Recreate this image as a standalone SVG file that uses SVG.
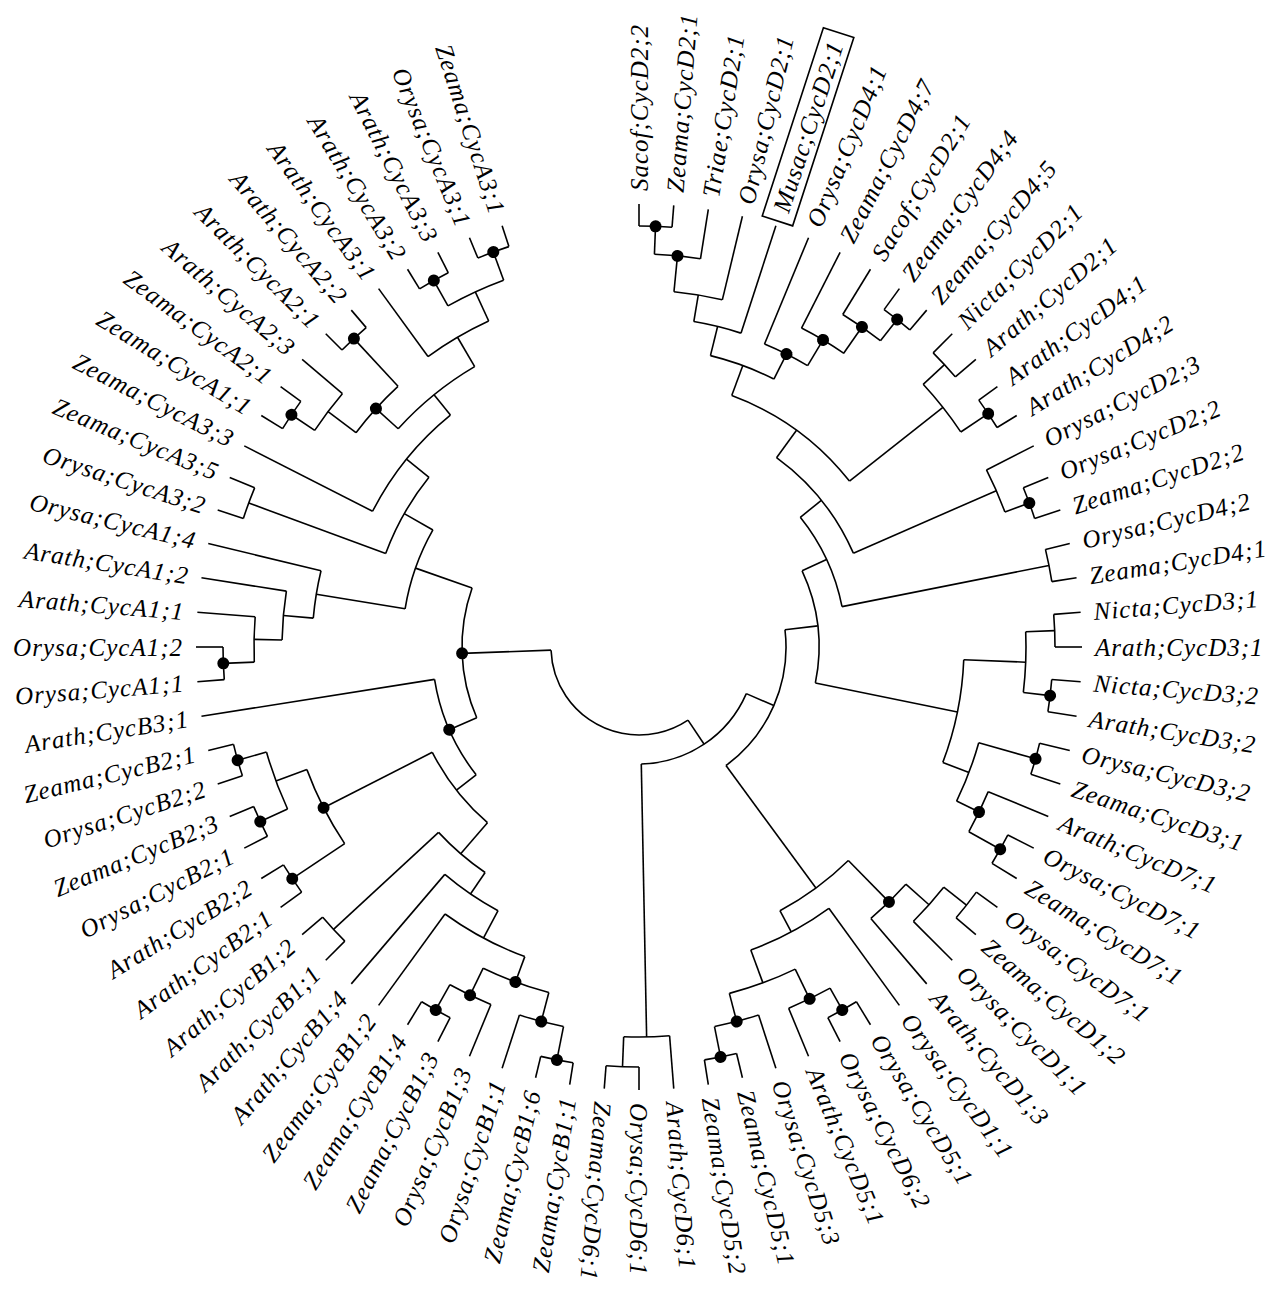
<svg xmlns="http://www.w3.org/2000/svg" width="1270" height="1289" viewBox="0 0 1270 1289">
<style>
#connectors line{stroke:#000;stroke-width:1.6}
#connectors circle{stroke:#000;stroke-width:1.6;fill:none}
.dot{fill:#000}
text{font-family:"Liberation Serif","Times New Roman",serif;font-style:italic;font-size:25px;letter-spacing:1px;fill:#000}
.l{text-anchor:end}
</style>
<rect width="1270" height="1289" fill="#fff"/>
<g transform="translate(639 647)">
<g id="connectors">
<line x1="421" x2="443" transform="rotate(-90)"/>
<line x1="421" x2="443" transform="rotate(-85.5)"/>
<line x1="393" x2="421" transform="rotate(-87.75)"/>
<line x1="393" x2="443" transform="rotate(-81)"/>
<line x1="357" x2="393" transform="rotate(-84.38)"/>
<line x1="357" x2="443" transform="rotate(-76.5)"/>
<line x1="330" x2="357" transform="rotate(-80.44)"/>
<line x1="330" x2="443" transform="rotate(-72)"/>
<line x1="417" x2="443" transform="rotate(-54)"/>
<line x1="417" x2="443" transform="rotate(-49.5)"/>
<line x1="390" x2="443" transform="rotate(-58.5)"/>
<line x1="390" x2="417" transform="rotate(-51.75)"/>
<line x1="358" x2="443" transform="rotate(-63)"/>
<line x1="358" x2="390" transform="rotate(-55.13)"/>
<line x1="328" x2="443" transform="rotate(-67.5)"/>
<line x1="328" x2="358" transform="rotate(-59.06)"/>
<line x1="300" x2="330" transform="rotate(-76.22)"/>
<line x1="300" x2="328" transform="rotate(-63.28)"/>
<line x1="416" x2="443" transform="rotate(-45)"/>
<line x1="416" x2="443" transform="rotate(-40.5)"/>
<line x1="420" x2="443" transform="rotate(-36)"/>
<line x1="420" x2="443" transform="rotate(-31.5)"/>
<line x1="387" x2="416" transform="rotate(-42.75)"/>
<line x1="387" x2="420" transform="rotate(-33.75)"/>
<line x1="268" x2="300" transform="rotate(-69.75)"/>
<line x1="268" x2="387" transform="rotate(-38.25)"/>
<line x1="416" x2="443" transform="rotate(-22.5)"/>
<line x1="416" x2="443" transform="rotate(-18)"/>
<line x1="390" x2="443" transform="rotate(-27)"/>
<line x1="390" x2="416" transform="rotate(-20.25)"/>
<line x1="234" x2="268" transform="rotate(-54)"/>
<line x1="234" x2="390" transform="rotate(-23.63)"/>
<line x1="418" x2="443" transform="rotate(-13.5)"/>
<line x1="418" x2="443" transform="rotate(-9)"/>
<line x1="207" x2="234" transform="rotate(-38.81)"/>
<line x1="207" x2="418" transform="rotate(-11.25)"/>
<line x1="416" x2="443" transform="rotate(-4.5)"/>
<line x1="416" x2="443" transform="rotate(0)"/>
<line x1="414" x2="443" transform="rotate(4.5)"/>
<line x1="414" x2="443" transform="rotate(9)"/>
<line x1="387" x2="416" transform="rotate(-2.25)"/>
<line x1="387" x2="414" transform="rotate(6.75)"/>
<line x1="412" x2="443" transform="rotate(13.5)"/>
<line x1="412" x2="443" transform="rotate(18)"/>
<line x1="414" x2="443" transform="rotate(27)"/>
<line x1="414" x2="443" transform="rotate(31.5)"/>
<line x1="378" x2="443" transform="rotate(22.5)"/>
<line x1="378" x2="414" transform="rotate(29.25)"/>
<line x1="353" x2="412" transform="rotate(15.75)"/>
<line x1="353" x2="378" transform="rotate(25.88)"/>
<line x1="325" x2="387" transform="rotate(2.25)"/>
<line x1="325" x2="353" transform="rotate(20.81)"/>
<line x1="180" x2="207" transform="rotate(-25.03)"/>
<line x1="180" x2="325" transform="rotate(11.53)"/>
<line x1="417" x2="443" transform="rotate(36)"/>
<line x1="417" x2="443" transform="rotate(40.5)"/>
<line x1="388" x2="417" transform="rotate(38.25)"/>
<line x1="388" x2="443" transform="rotate(45)"/>
<line x1="357" x2="388" transform="rotate(41.63)"/>
<line x1="357" x2="443" transform="rotate(49.5)"/>
<line x1="416" x2="443" transform="rotate(58.5)"/>
<line x1="416" x2="443" transform="rotate(63)"/>
<line x1="391" x2="416" transform="rotate(60.75)"/>
<line x1="391" x2="443" transform="rotate(67.5)"/>
<line x1="418" x2="443" transform="rotate(76.5)"/>
<line x1="418" x2="443" transform="rotate(81)"/>
<line x1="387" x2="443" transform="rotate(72)"/>
<line x1="387" x2="418" transform="rotate(78.75)"/>
<line x1="358" x2="391" transform="rotate(64.13)"/>
<line x1="358" x2="387" transform="rotate(75.38)"/>
<line x1="323" x2="443" transform="rotate(54)"/>
<line x1="323" x2="358" transform="rotate(69.75)"/>
<line x1="299" x2="357" transform="rotate(45.56)"/>
<line x1="299" x2="323" transform="rotate(61.88)"/>
<line x1="147" x2="180" transform="rotate(-6.75)"/>
<line x1="147" x2="299" transform="rotate(53.72)"/>
<line x1="420" x2="443" transform="rotate(90)"/>
<line x1="420" x2="443" transform="rotate(94.5)"/>
<line x1="390" x2="443" transform="rotate(85.5)"/>
<line x1="390" x2="420" transform="rotate(92.25)"/>
<line x1="117" x2="147" transform="rotate(23.48)"/>
<line x1="117" x2="390" transform="rotate(88.88)"/>
<line x1="88" x2="117" transform="rotate(56.18)"/>
<line x1="88" x2="177" transform="rotate(177.95)"/>
<line x1="421" x2="443" transform="rotate(99)"/>
<line x1="421" x2="443" transform="rotate(103.5)"/>
<line x1="387" x2="421" transform="rotate(101.25)"/>
<line x1="387" x2="443" transform="rotate(108)"/>
<line x1="416" x2="443" transform="rotate(117)"/>
<line x1="416" x2="443" transform="rotate(121.5)"/>
<line x1="387" x2="443" transform="rotate(112.5)"/>
<line x1="387" x2="416" transform="rotate(119.25)"/>
<line x1="357" x2="387" transform="rotate(104.63)"/>
<line x1="357" x2="387" transform="rotate(115.88)"/>
<line x1="330" x2="357" transform="rotate(110.25)"/>
<line x1="330" x2="443" transform="rotate(126)"/>
<line x1="299" x2="330" transform="rotate(118.13)"/>
<line x1="299" x2="443" transform="rotate(130.5)"/>
<line x1="416" x2="443" transform="rotate(135)"/>
<line x1="416" x2="443" transform="rotate(139.5)"/>
<line x1="273" x2="299" transform="rotate(124.31)"/>
<line x1="273" x2="416" transform="rotate(137.25)"/>
<line x1="417" x2="443" transform="rotate(144)"/>
<line x1="417" x2="443" transform="rotate(148.5)"/>
<line x1="417" x2="443" transform="rotate(153)"/>
<line x1="417" x2="443" transform="rotate(157.5)"/>
<line x1="417" x2="443" transform="rotate(162)"/>
<line x1="417" x2="443" transform="rotate(166.5)"/>
<line x1="387" x2="417" transform="rotate(155.25)"/>
<line x1="387" x2="417" transform="rotate(164.25)"/>
<line x1="354" x2="417" transform="rotate(146.25)"/>
<line x1="354" x2="387" transform="rotate(159.75)"/>
<line x1="232" x2="273" transform="rotate(130.78)"/>
<line x1="232" x2="354" transform="rotate(153)"/>
<line x1="207" x2="232" transform="rotate(141.89)"/>
<line x1="207" x2="443" transform="rotate(171)"/>
<line x1="416" x2="443" transform="rotate(175.5)"/>
<line x1="416" x2="443" transform="rotate(180)"/>
<line x1="385" x2="416" transform="rotate(177.75)"/>
<line x1="385" x2="443" transform="rotate(184.5)"/>
<line x1="357" x2="385" transform="rotate(181.13)"/>
<line x1="357" x2="443" transform="rotate(189)"/>
<line x1="327" x2="357" transform="rotate(185.06)"/>
<line x1="327" x2="443" transform="rotate(193.5)"/>
<line x1="416" x2="443" transform="rotate(198)"/>
<line x1="416" x2="443" transform="rotate(202.5)"/>
<line x1="418" x2="443" transform="rotate(211.5)"/>
<line x1="418" x2="443" transform="rotate(216)"/>
<line x1="390" x2="418" transform="rotate(213.75)"/>
<line x1="390" x2="443" transform="rotate(220.5)"/>
<line x1="420" x2="443" transform="rotate(225)"/>
<line x1="420" x2="443" transform="rotate(229.5)"/>
<line x1="355" x2="390" transform="rotate(217.13)"/>
<line x1="355" x2="420" transform="rotate(227.25)"/>
<line x1="420" x2="443" transform="rotate(238.5)"/>
<line x1="420" x2="443" transform="rotate(243)"/>
<line x1="421" x2="443" transform="rotate(247.5)"/>
<line x1="421" x2="443" transform="rotate(252)"/>
<line x1="391" x2="420" transform="rotate(240.75)"/>
<line x1="391" x2="421" transform="rotate(249.75)"/>
<line x1="359" x2="443" transform="rotate(234)"/>
<line x1="359" x2="391" transform="rotate(245.25)"/>
<line x1="325" x2="355" transform="rotate(222.19)"/>
<line x1="325" x2="359" transform="rotate(239.63)"/>
<line x1="299" x2="443" transform="rotate(207)"/>
<line x1="299" x2="325" transform="rotate(230.9)"/>
<line x1="270" x2="416" transform="rotate(200.25)"/>
<line x1="270" x2="299" transform="rotate(218.95)"/>
<line x1="237" x2="327" transform="rotate(189.28)"/>
<line x1="237" x2="270" transform="rotate(209.6)"/>
<line x1="177" x2="237" transform="rotate(199.44)"/>
<line x1="177" x2="207" transform="rotate(156.45)"/>
<circle r="421" pathLength="360" stroke-dasharray="4.5 360" transform="rotate(-90)"/>
<circle r="393" pathLength="360" stroke-dasharray="6.75 360" transform="rotate(-87.75)"/>
<circle r="357" pathLength="360" stroke-dasharray="7.88 360" transform="rotate(-84.38)"/>
<circle r="330" pathLength="360" stroke-dasharray="8.44 360" transform="rotate(-80.44)"/>
<circle r="417" pathLength="360" stroke-dasharray="4.5 360" transform="rotate(-54)"/>
<circle r="390" pathLength="360" stroke-dasharray="6.75 360" transform="rotate(-58.5)"/>
<circle r="358" pathLength="360" stroke-dasharray="7.94 360" transform="rotate(-63)"/>
<circle r="328" pathLength="360" stroke-dasharray="8.44 360" transform="rotate(-67.5)"/>
<circle r="300" pathLength="360" stroke-dasharray="12.94 360" transform="rotate(-76.22)"/>
<circle r="416" pathLength="360" stroke-dasharray="4.5 360" transform="rotate(-45)"/>
<circle r="420" pathLength="360" stroke-dasharray="4.5 360" transform="rotate(-36)"/>
<circle r="387" pathLength="360" stroke-dasharray="9 360" transform="rotate(-42.75)"/>
<circle r="268" pathLength="360" stroke-dasharray="31.5 360" transform="rotate(-69.75)"/>
<circle r="416" pathLength="360" stroke-dasharray="4.5 360" transform="rotate(-22.5)"/>
<circle r="390" pathLength="360" stroke-dasharray="6.75 360" transform="rotate(-27)"/>
<circle r="234" pathLength="360" stroke-dasharray="30.37 360" transform="rotate(-54)"/>
<circle r="418" pathLength="360" stroke-dasharray="4.5 360" transform="rotate(-13.5)"/>
<circle r="207" pathLength="360" stroke-dasharray="27.56 360" transform="rotate(-38.81)"/>
<circle r="416" pathLength="360" stroke-dasharray="4.5 360" transform="rotate(-4.5)"/>
<circle r="414" pathLength="360" stroke-dasharray="4.5 360" transform="rotate(4.5)"/>
<circle r="387" pathLength="360" stroke-dasharray="9 360" transform="rotate(-2.25)"/>
<circle r="412" pathLength="360" stroke-dasharray="4.5 360" transform="rotate(13.5)"/>
<circle r="414" pathLength="360" stroke-dasharray="4.5 360" transform="rotate(27)"/>
<circle r="378" pathLength="360" stroke-dasharray="6.75 360" transform="rotate(22.5)"/>
<circle r="353" pathLength="360" stroke-dasharray="10.13 360" transform="rotate(15.75)"/>
<circle r="325" pathLength="360" stroke-dasharray="18.56 360" transform="rotate(2.25)"/>
<circle r="180" pathLength="360" stroke-dasharray="36.56 360" transform="rotate(-25.03)"/>
<circle r="417" pathLength="360" stroke-dasharray="4.5 360" transform="rotate(36)"/>
<circle r="388" pathLength="360" stroke-dasharray="6.75 360" transform="rotate(38.25)"/>
<circle r="357" pathLength="360" stroke-dasharray="7.88 360" transform="rotate(41.63)"/>
<circle r="416" pathLength="360" stroke-dasharray="4.5 360" transform="rotate(58.5)"/>
<circle r="391" pathLength="360" stroke-dasharray="6.75 360" transform="rotate(60.75)"/>
<circle r="418" pathLength="360" stroke-dasharray="4.5 360" transform="rotate(76.5)"/>
<circle r="387" pathLength="360" stroke-dasharray="6.75 360" transform="rotate(72)"/>
<circle r="358" pathLength="360" stroke-dasharray="11.25 360" transform="rotate(64.13)"/>
<circle r="323" pathLength="360" stroke-dasharray="15.75 360" transform="rotate(54)"/>
<circle r="299" pathLength="360" stroke-dasharray="16.32 360" transform="rotate(45.56)"/>
<circle r="147" pathLength="360" stroke-dasharray="60.47 360" transform="rotate(-6.75)"/>
<circle r="420" pathLength="360" stroke-dasharray="4.5 360" transform="rotate(90)"/>
<circle r="390" pathLength="360" stroke-dasharray="6.75 360" transform="rotate(85.5)"/>
<circle r="117" pathLength="360" stroke-dasharray="65.4 360" transform="rotate(23.48)"/>
<circle r="88" pathLength="360" stroke-dasharray="121.77 360" transform="rotate(56.18)"/>
<circle r="421" pathLength="360" stroke-dasharray="4.5 360" transform="rotate(99)"/>
<circle r="387" pathLength="360" stroke-dasharray="6.75 360" transform="rotate(101.25)"/>
<circle r="416" pathLength="360" stroke-dasharray="4.5 360" transform="rotate(117)"/>
<circle r="387" pathLength="360" stroke-dasharray="6.75 360" transform="rotate(112.5)"/>
<circle r="357" pathLength="360" stroke-dasharray="11.25 360" transform="rotate(104.63)"/>
<circle r="330" pathLength="360" stroke-dasharray="15.75 360" transform="rotate(110.25)"/>
<circle r="299" pathLength="360" stroke-dasharray="12.37 360" transform="rotate(118.13)"/>
<circle r="416" pathLength="360" stroke-dasharray="4.5 360" transform="rotate(135)"/>
<circle r="273" pathLength="360" stroke-dasharray="12.94 360" transform="rotate(124.31)"/>
<circle r="417" pathLength="360" stroke-dasharray="4.5 360" transform="rotate(144)"/>
<circle r="417" pathLength="360" stroke-dasharray="4.5 360" transform="rotate(153)"/>
<circle r="417" pathLength="360" stroke-dasharray="4.5 360" transform="rotate(162)"/>
<circle r="387" pathLength="360" stroke-dasharray="9 360" transform="rotate(155.25)"/>
<circle r="354" pathLength="360" stroke-dasharray="13.5 360" transform="rotate(146.25)"/>
<circle r="232" pathLength="360" stroke-dasharray="22.22 360" transform="rotate(130.78)"/>
<circle r="207" pathLength="360" stroke-dasharray="29.11 360" transform="rotate(141.89)"/>
<circle r="416" pathLength="360" stroke-dasharray="4.5 360" transform="rotate(175.5)"/>
<circle r="385" pathLength="360" stroke-dasharray="6.75 360" transform="rotate(177.75)"/>
<circle r="357" pathLength="360" stroke-dasharray="7.88 360" transform="rotate(181.13)"/>
<circle r="327" pathLength="360" stroke-dasharray="8.44 360" transform="rotate(185.06)"/>
<circle r="416" pathLength="360" stroke-dasharray="4.5 360" transform="rotate(198)"/>
<circle r="418" pathLength="360" stroke-dasharray="4.5 360" transform="rotate(211.5)"/>
<circle r="390" pathLength="360" stroke-dasharray="6.75 360" transform="rotate(213.75)"/>
<circle r="420" pathLength="360" stroke-dasharray="4.5 360" transform="rotate(225)"/>
<circle r="355" pathLength="360" stroke-dasharray="10.12 360" transform="rotate(217.13)"/>
<circle r="420" pathLength="360" stroke-dasharray="4.5 360" transform="rotate(238.5)"/>
<circle r="421" pathLength="360" stroke-dasharray="4.5 360" transform="rotate(247.5)"/>
<circle r="391" pathLength="360" stroke-dasharray="9 360" transform="rotate(240.75)"/>
<circle r="359" pathLength="360" stroke-dasharray="11.25 360" transform="rotate(234)"/>
<circle r="325" pathLength="360" stroke-dasharray="17.44 360" transform="rotate(222.19)"/>
<circle r="299" pathLength="360" stroke-dasharray="23.9 360" transform="rotate(207)"/>
<circle r="270" pathLength="360" stroke-dasharray="18.7 360" transform="rotate(200.25)"/>
<circle r="237" pathLength="360" stroke-dasharray="20.32 360" transform="rotate(189.28)"/>
<circle r="177" pathLength="360" stroke-dasharray="42.99 360" transform="rotate(156.45)"/>
</g>
<g id="support-nodes">
<g id="nA"><circle class="dot" cx="421" r="6" transform="rotate(-87.75)"/></g>
<g id="nB"><circle class="dot" cx="393" r="6" transform="rotate(-84.38)"/></g>
<g id="nL9"><circle class="dot" cx="417" r="6" transform="rotate(-51.75)"/></g>
<g id="nL8"><circle class="dot" cx="390" r="6" transform="rotate(-55.13)"/></g>
<g id="nL7"><circle class="dot" cx="358" r="6" transform="rotate(-59.06)"/></g>
<g id="nL6"><circle class="dot" cx="328" r="6" transform="rotate(-63.28)"/></g>
<g id="n1314"><circle class="dot" cx="420" r="6" transform="rotate(-33.75)"/></g>
<g id="n1617"><circle class="dot" cx="416" r="6" transform="rotate(-20.25)"/></g>
<g id="n2223"><circle class="dot" cx="414" r="6" transform="rotate(6.75)"/></g>
<g id="nQ"><circle class="dot" cx="412" r="6" transform="rotate(15.75)"/></g>
<g id="nS"><circle class="dot" cx="414" r="6" transform="rotate(29.25)"/></g>
<g id="nR"><circle class="dot" cx="378" r="6" transform="rotate(25.88)"/></g>
<g id="nZ3"><circle class="dot" cx="357" r="6" transform="rotate(45.56)"/></g>
<g id="n3435"><circle class="dot" cx="416" r="6" transform="rotate(60.75)"/></g>
<g id="n36"><circle class="dot" cx="391" r="6" transform="rotate(64.13)"/></g>
<g id="n3839"><circle class="dot" cx="418" r="6" transform="rotate(78.75)"/></g>
<g id="n37"><circle class="dot" cx="387" r="6" transform="rotate(75.38)"/></g>
<g id="n4344"><circle class="dot" cx="421" r="6" transform="rotate(101.25)"/></g>
<g id="n45"><circle class="dot" cx="387" r="6" transform="rotate(104.63)"/></g>
<g id="n4748"><circle class="dot" cx="416" r="6" transform="rotate(119.25)"/></g>
<g id="n46"><circle class="dot" cx="387" r="6" transform="rotate(115.88)"/></g>
<g id="nB1a"><circle class="dot" cx="357" r="6" transform="rotate(110.25)"/></g>
<g id="n5354"><circle class="dot" cx="417" r="6" transform="rotate(146.25)"/></g>
<g id="n5556"><circle class="dot" cx="417" r="6" transform="rotate(155.25)"/></g>
<g id="n5758"><circle class="dot" cx="417" r="6" transform="rotate(164.25)"/></g>
<g id="nB2"><circle class="dot" cx="354" r="6" transform="rotate(153)"/></g>
<g id="nBB"><circle class="dot" cx="207" r="6" transform="rotate(156.45)"/></g>
<g id="n6061"><circle class="dot" cx="416" r="6" transform="rotate(177.75)"/></g>
<g id="n6869"><circle class="dot" cx="418" r="6" transform="rotate(213.75)"/></g>
<g id="n7172"><circle class="dot" cx="420" r="6" transform="rotate(227.25)"/></g>
<g id="nA2"><circle class="dot" cx="355" r="6" transform="rotate(222.19)"/></g>
<g id="n7475"><circle class="dot" cx="420" r="6" transform="rotate(240.75)"/></g>
<g id="n7677"><circle class="dot" cx="421" r="6" transform="rotate(249.75)"/></g>
<g id="nL0"><circle class="dot" cx="177" r="6" transform="rotate(177.95)"/></g>
</g>
<g id="leaves">
<g id="leaf01"><text transform="rotate(-90) translate(456 0)" dy="0.35em">Sacof;CycD2;2</text></g>
<g id="leaf02"><text transform="rotate(-85.5) translate(456 0)" dy="0.35em">Zeama;CycD2;1</text></g>
<g id="leaf03"><text transform="rotate(-81) translate(456 0)" dy="0.35em">Triae;CycD2;1</text></g>
<g id="leaf04"><text transform="rotate(-76.5) translate(456 0)" dy="0.35em">Orysa;CycD2;1</text></g>
<g id="leaf05"><rect x="-4" y="-16" width="198" height="32" fill="none" stroke="#000" stroke-width="1.6" transform="rotate(-72) translate(452 0)"/><text transform="rotate(-72) translate(458 0)" dy="0.35em">Musac;CycD2;1</text></g>
<g id="leaf06"><text transform="rotate(-67.5) translate(456 0)" dy="0.35em">Orysa;CycD4;1</text></g>
<g id="leaf07"><text transform="rotate(-63) translate(456 0)" dy="0.35em">Zeama;CycD4;7</text></g>
<g id="leaf08"><text transform="rotate(-58.5) translate(456 0)" dy="0.35em">Sacof;CycD2;1</text></g>
<g id="leaf09"><text transform="rotate(-54) translate(456 0)" dy="0.35em">Zeama;CycD4;4</text></g>
<g id="leaf10"><text transform="rotate(-49.5) translate(456 0)" dy="0.35em">Zeama;CycD4;5</text></g>
<g id="leaf11"><text transform="rotate(-45) translate(456 0)" dy="0.35em">Nicta;CycD2;1</text></g>
<g id="leaf12"><text transform="rotate(-40.5) translate(456 0)" dy="0.35em">Arath;CycD2;1</text></g>
<g id="leaf13"><text transform="rotate(-36) translate(456 0)" dy="0.35em">Arath;CycD4;1</text></g>
<g id="leaf14"><text transform="rotate(-31.5) translate(456 0)" dy="0.35em">Arath;CycD4;2</text></g>
<g id="leaf15"><text transform="rotate(-27) translate(456 0)" dy="0.35em">Orysa;CycD2;3</text></g>
<g id="leaf16"><text transform="rotate(-22.5) translate(456 0)" dy="0.35em">Orysa;CycD2;2</text></g>
<g id="leaf17"><text transform="rotate(-18) translate(456 0)" dy="0.35em">Zeama;CycD2;2</text></g>
<g id="leaf18"><text transform="rotate(-13.5) translate(456 0)" dy="0.35em">Orysa;CycD4;2</text></g>
<g id="leaf19"><text transform="rotate(-9) translate(456 0)" dy="0.35em">Zeama;CycD4;1</text></g>
<g id="leaf20"><text transform="rotate(-4.5) translate(456 0)" dy="0.35em">Nicta;CycD3;1</text></g>
<g id="leaf21"><text transform="rotate(0) translate(456 0)" dy="0.35em">Arath;CycD3;1</text></g>
<g id="leaf22"><text transform="rotate(4.5) translate(456 0)" dy="0.35em">Nicta;CycD3;2</text></g>
<g id="leaf23"><text transform="rotate(9) translate(456 0)" dy="0.35em">Arath;CycD3;2</text></g>
<g id="leaf24"><text transform="rotate(13.5) translate(456 0)" dy="0.35em">Orysa;CycD3;2</text></g>
<g id="leaf25"><text transform="rotate(18) translate(456 0)" dy="0.35em">Zeama;CycD3;1</text></g>
<g id="leaf26"><text transform="rotate(22.5) translate(456 0)" dy="0.35em">Arath;CycD7;1</text></g>
<g id="leaf27"><text transform="rotate(27) translate(456 0)" dy="0.35em">Orysa;CycD7;1</text></g>
<g id="leaf28"><text transform="rotate(31.5) translate(456 0)" dy="0.35em">Zeama;CycD7;1</text></g>
<g id="leaf29"><text transform="rotate(36) translate(456 0)" dy="0.35em">Orysa;CycD7;1</text></g>
<g id="leaf30"><text transform="rotate(40.5) translate(456 0)" dy="0.35em">Zeama;CycD1;2</text></g>
<g id="leaf31"><text transform="rotate(45) translate(456 0)" dy="0.35em">Orysa;CycD1;1</text></g>
<g id="leaf32"><text transform="rotate(49.5) translate(456 0)" dy="0.35em">Arath;CycD1;3</text></g>
<g id="leaf33"><text transform="rotate(54) translate(456 0)" dy="0.35em">Orysa;CycD1;1</text></g>
<g id="leaf34"><text transform="rotate(58.5) translate(456 0)" dy="0.35em">Orysa;CycD5;1</text></g>
<g id="leaf35"><text transform="rotate(63) translate(456 0)" dy="0.35em">Orysa;CycD6;2</text></g>
<g id="leaf36"><text transform="rotate(67.5) translate(456 0)" dy="0.35em">Arath;CycD5;1</text></g>
<g id="leaf37"><text transform="rotate(72) translate(456 0)" dy="0.35em">Orysa;CycD5;3</text></g>
<g id="leaf38"><text transform="rotate(76.5) translate(456 0)" dy="0.35em">Zeama;CycD5;1</text></g>
<g id="leaf39"><text transform="rotate(81) translate(456 0)" dy="0.35em">Zeama;CycD5;2</text></g>
<g id="leaf40"><text transform="rotate(85.5) translate(456 0)" dy="0.35em">Arath;CycD6;1</text></g>
<g id="leaf41"><text transform="rotate(90) translate(456 0)" dy="0.35em">Orysa;CycD6;1</text></g>
<g id="leaf42"><text transform="rotate(94.5) translate(456 0)" dy="0.35em">Zeama;CycD6;1</text></g>
<g id="leaf43"><text class="l" transform="rotate(99) translate(456 0) rotate(180)" dy="0.35em">Zeama;CycB1;1</text></g>
<g id="leaf44"><text class="l" transform="rotate(103.5) translate(456 0) rotate(180)" dy="0.35em">Zeama;CycB1;6</text></g>
<g id="leaf45"><text class="l" transform="rotate(108) translate(456 0) rotate(180)" dy="0.35em">Orysa;CycB1;1</text></g>
<g id="leaf46"><text class="l" transform="rotate(112.5) translate(456 0) rotate(180)" dy="0.35em">Orysa;CycB1;3</text></g>
<g id="leaf47"><text class="l" transform="rotate(117) translate(456 0) rotate(180)" dy="0.35em">Zeama;CycB1;3</text></g>
<g id="leaf48"><text class="l" transform="rotate(121.5) translate(456 0) rotate(180)" dy="0.35em">Zeama;CycB1;4</text></g>
<g id="leaf49"><text class="l" transform="rotate(126) translate(456 0) rotate(180)" dy="0.35em">Zeama;CycB1;2</text></g>
<g id="leaf50"><text class="l" transform="rotate(130.5) translate(456 0) rotate(180)" dy="0.35em">Arath;CycB1;4</text></g>
<g id="leaf51"><text class="l" transform="rotate(135) translate(456 0) rotate(180)" dy="0.35em">Arath;CycB1;1</text></g>
<g id="leaf52"><text class="l" transform="rotate(139.5) translate(456 0) rotate(180)" dy="0.35em">Arath;CycB1;2</text></g>
<g id="leaf53"><text class="l" transform="rotate(144) translate(456 0) rotate(180)" dy="0.35em">Arath;CycB2;1</text></g>
<g id="leaf54"><text class="l" transform="rotate(148.5) translate(456 0) rotate(180)" dy="0.35em">Arath;CycB2;2</text></g>
<g id="leaf55"><text class="l" transform="rotate(153) translate(456 0) rotate(180)" dy="0.35em">Orysa;CycB2;1</text></g>
<g id="leaf56"><text class="l" transform="rotate(157.5) translate(456 0) rotate(180)" dy="0.35em">Zeama;CycB2;3</text></g>
<g id="leaf57"><text class="l" transform="rotate(162) translate(456 0) rotate(180)" dy="0.35em">Orysa;CycB2;2</text></g>
<g id="leaf58"><text class="l" transform="rotate(166.5) translate(456 0) rotate(180)" dy="0.35em">Zeama;CycB2;1</text></g>
<g id="leaf59"><text class="l" transform="rotate(171) translate(456 0) rotate(180)" dy="0.35em">Arath;CycB3;1</text></g>
<g id="leaf60"><text class="l" transform="rotate(175.5) translate(456 0) rotate(180)" dy="0.35em">Orysa;CycA1;1</text></g>
<g id="leaf61"><text class="l" transform="rotate(180) translate(456 0) rotate(180)" dy="0.35em">Orysa;CycA1;2</text></g>
<g id="leaf62"><text class="l" transform="rotate(184.5) translate(456 0) rotate(180)" dy="0.35em">Arath;CycA1;1</text></g>
<g id="leaf63"><text class="l" transform="rotate(189) translate(456 0) rotate(180)" dy="0.35em">Arath;CycA1;2</text></g>
<g id="leaf64"><text class="l" transform="rotate(193.5) translate(456 0) rotate(180)" dy="0.35em">Orysa;CycA1;4</text></g>
<g id="leaf65"><text class="l" transform="rotate(198) translate(456 0) rotate(180)" dy="0.35em">Orysa;CycA3;2</text></g>
<g id="leaf66"><text class="l" transform="rotate(202.5) translate(456 0) rotate(180)" dy="0.35em">Zeama;CycA3;5</text></g>
<g id="leaf67"><text class="l" transform="rotate(207) translate(456 0) rotate(180)" dy="0.35em">Zeama;CycA3;3</text></g>
<g id="leaf68"><text class="l" transform="rotate(211.5) translate(456 0) rotate(180)" dy="0.35em">Zeama;CycA1;1</text></g>
<g id="leaf69"><text class="l" transform="rotate(216) translate(456 0) rotate(180)" dy="0.35em">Zeama;CycA2;1</text></g>
<g id="leaf70"><text class="l" transform="rotate(220.5) translate(456 0) rotate(180)" dy="0.35em">Arath;CycA2;3</text></g>
<g id="leaf71"><text class="l" transform="rotate(225) translate(456 0) rotate(180)" dy="0.35em">Arath;CycA2;1</text></g>
<g id="leaf72"><text class="l" transform="rotate(229.5) translate(456 0) rotate(180)" dy="0.35em">Arath;CycA2;2</text></g>
<g id="leaf73"><text class="l" transform="rotate(234) translate(456 0) rotate(180)" dy="0.35em">Arath;CycA3;1</text></g>
<g id="leaf74"><text class="l" transform="rotate(238.5) translate(456 0) rotate(180)" dy="0.35em">Arath;CycA3;2</text></g>
<g id="leaf75"><text class="l" transform="rotate(243) translate(456 0) rotate(180)" dy="0.35em">Arath;CycA3;3</text></g>
<g id="leaf76"><text class="l" transform="rotate(247.5) translate(456 0) rotate(180)" dy="0.35em">Orysa;CycA3;1</text></g>
<g id="leaf77"><text class="l" transform="rotate(252) translate(456 0) rotate(180)" dy="0.35em">Zeama;CycA3;1</text></g>
</g>
</g>
</svg>
